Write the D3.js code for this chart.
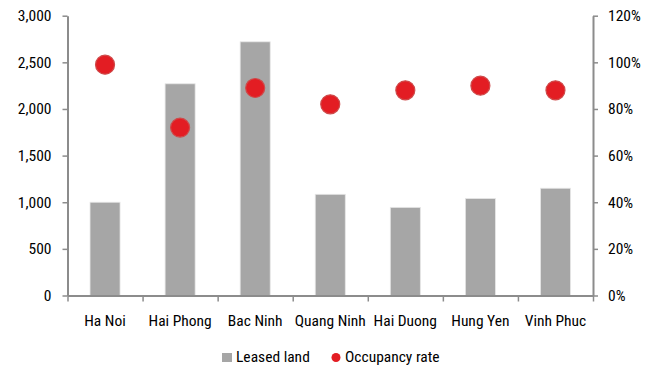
<!DOCTYPE html>
<html>
<head>
<meta charset="utf-8">
<script src="https://cdn.jsdelivr.net/npm/d3@7"></script>
<style>
  html, body { margin: 0; padding: 0; background: #fff; }
  svg { display: block; }
  text { font-family: "Liberation Sans Narrow", "Arial Narrow", "Roboto Condensed", "Liberation Sans", sans-serif; font-size: 15.5px; fill: #000; }
</style>
</head>
<body>
<svg id="chart" width="655" height="372"></svg>
<script>
// Industrial park figures by province
const categories = ["Ha Noi", "Hai Phong", "Bac Ninh", "Quang Ninh", "Hai Duong", "Hung Yen", "Vinh Phuc"];
const leasedLand = [1000, 2270, 2720, 1085, 945, 1040, 1150];      // hectares
const occupancyRate = [0.99, 0.72, 0.89, 0.82, 0.88, 0.90, 0.88];   // share
const leftTicks = [0, 500, 1000, 1500, 2000, 2500, 3000];
const rightTicks = [0, 0.2, 0.4, 0.6, 0.8, 1.0, 1.2];

const svg = d3.select("#chart");
const margin = { left: 67.5, right: 62, top: 15.7, bottom: 76.5 };
const W = 655, H = 372;
const innerW = W - margin.left - margin.right;
const innerH = H - margin.top - margin.bottom;
const axisColor = "#8c8c8c";

const g = svg.append("g").attr("transform", `translate(${margin.left},${margin.top})`);

const x = d3.scaleBand().domain(categories).range([0, innerW]).paddingInner(0.6).paddingOuter(0.3);
const yL = d3.scaleLinear().domain([0, 3000]).range([innerH, 0]);
const yR = d3.scaleLinear().domain([0, 1.2]).range([innerH, 0]);

// Bars
g.selectAll("rect.bar")
  .data(categories)
  .join("rect")
  .attr("class", "bar")
  .attr("x", d => x(d))
  .attr("width", x.bandwidth())
  .attr("y", (d, i) => yL(leasedLand[i]))
  .attr("height", (d, i) => innerH - yL(leasedLand[i]))
  .attr("fill", "#a6a6a6")
  .attr("stroke", "#e6e6e6")
  .attr("stroke-width", 0.8);

// Left axis
const leftAxis = g.append("g")
  .call(d3.axisLeft(yL).tickValues(leftTicks).tickFormat(d3.format(",")).tickSize(5).tickSizeOuter(0).tickPadding(11));
// Right axis
const rightAxis = g.append("g")
  .attr("transform", `translate(${innerW},0)`)
  .call(d3.axisRight(yR).tickValues(rightTicks).tickFormat(d3.format(".0%")).tickSize(5).tickSizeOuter(0).tickPadding(10));
// Bottom axis with ticks at category boundaries
const boundaries = d3.range(categories.length + 1).map(i => i * innerW / categories.length);
const xb = d3.scaleLinear().domain([0, innerW]).range([0, innerW]);
const bottomAxis = g.append("g")
  .attr("transform", `translate(0,${innerH})`)
  .call(d3.axisBottom(xb).tickValues(boundaries).tickFormat("").tickSize(6).tickSizeOuter(0));

[leftAxis, rightAxis, bottomAxis].forEach(a => {
  a.selectAll("path.domain").attr("stroke", axisColor).attr("stroke-width", 2);
  a.selectAll(".tick line").attr("stroke", axisColor).attr("stroke-width", 1.5);
  a.selectAll("text").attr("font-size", null).attr("font-family", null).attr("fill", "#000");
});

// Category labels
g.selectAll("text.cat")
  .data(categories)
  .join("text")
  .attr("class", "cat")
  .attr("x", d => x(d) + x.bandwidth() / 2)
  .attr("y", innerH + 31)
  .attr("text-anchor", "middle")
  .text(d => d);

// Occupancy dots
g.selectAll("circle.dot")
  .data(categories)
  .join("circle")
  .attr("class", "dot")
  .attr("cx", d => x(d) + x.bandwidth() / 2)
  .attr("cy", (d, i) => yR(occupancyRate[i]))
  .attr("r", 9.5)
  .attr("fill", "#e31d23")
  .attr("stroke", "#cf4a4a")
  .attr("stroke-width", 1.2);

// Legend
const legend = svg.append("g").attr("transform", "translate(0,362)");
legend.append("rect").attr("x", 222).attr("y", -9).attr("width", 10).attr("height", 9).attr("fill", "#a6a6a6");
legend.append("text").attr("x", 236).attr("y", 0).text("Leased land");
legend.append("circle").attr("cx", 336).attr("cy", -4.5).attr("r", 4.5).attr("fill", "#e31d23");
legend.append("text").attr("x", 345).attr("y", 0).text("Occupancy rate");
</script>
</body>
</html>
